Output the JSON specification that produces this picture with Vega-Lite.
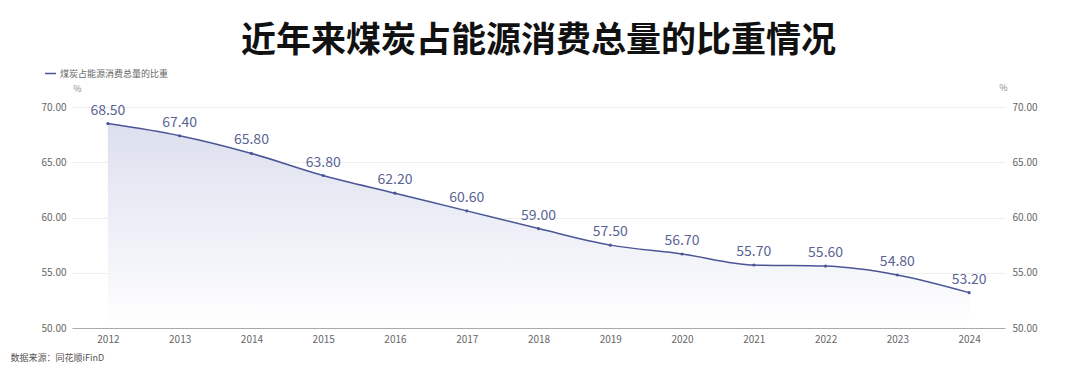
{
  "$schema": "https://vega.github.io/schema/vega-lite/v6.json",
  "width": 933,
  "height": 221,
  "autosize": {"type": "none"},
  "padding": {"left": 72, "top": 107, "right": 75, "bottom": 49},
  "background": "white",
  "config": {
    "font": "Noto Sans CJK SC",
    "view": {"stroke": null}
  },
  "title": {
    "text": "近年来煤炭占能源消费总量的比重情况",
    "fontSize": 35,
    "fontWeight": "bold",
    "color": "#111111",
    "anchor": "middle",
    "frame": "group",
    "offset": 8
  },
  "data": {
    "values": [
      {"year": "2012", "value": 68.5, "series": "煤炭占能源消费总量的比重"},
      {"year": "2013", "value": 67.4, "series": "煤炭占能源消费总量的比重"},
      {"year": "2014", "value": 65.8, "series": "煤炭占能源消费总量的比重"},
      {"year": "2015", "value": 63.8, "series": "煤炭占能源消费总量的比重"},
      {"year": "2016", "value": 62.2, "series": "煤炭占能源消费总量的比重"},
      {"year": "2017", "value": 60.6, "series": "煤炭占能源消费总量的比重"},
      {"year": "2018", "value": 59.0, "series": "煤炭占能源消费总量的比重"},
      {"year": "2019", "value": 57.5, "series": "煤炭占能源消费总量的比重"},
      {"year": "2020", "value": 56.7, "series": "煤炭占能源消费总量的比重"},
      {"year": "2021", "value": 55.7, "series": "煤炭占能源消费总量的比重"},
      {"year": "2022", "value": 55.6, "series": "煤炭占能源消费总量的比重"},
      {"year": "2023", "value": 54.8, "series": "煤炭占能源消费总量的比重"},
      {"year": "2024", "value": 53.2, "series": "煤炭占能源消费总量的比重"}
    ]
  },
  "encoding": {
    "x": {
      "field": "year",
      "type": "ordinal",
      "scale": {"type": "point", "padding": 0.5},
      "axis": {
        "labelAngle": 0,
        "labelFontSize": 10,
        "labelColor": "#666666",
        "labelPadding": 6,
        "ticks": false,
        "domainColor": "#aaaaaa",
        "grid": false,
        "title": "数据来源：同花顺iFinD",
        "titleFontSize": 9,
        "titleFontWeight": "normal",
        "titleColor": "#555555",
        "titleAnchor": "start",
        "titleAlign": "left",
        "titleX": -62,
        "titleY": 29,
        "titleBaseline": "middle"
      }
    },
    "y": {
      "field": "value",
      "type": "quantitative",
      "scale": {"domain": [50, 70], "zero": false, "nice": false},
      "axis": null
    }
  },
  "layer": [
    {
      "mark": {
        "type": "area",
        "interpolate": "monotone",
        "fill": {
          "x1": 0, "y1": 0, "x2": 0, "y2": 1,
          "gradient": "linear",
          "stops": [
            {"offset": 0, "color": "#dcdfee"},
            {"offset": 1, "color": "#ffffff"}
          ]
        },
        "opacity": 1
      },
      "encoding": {
        "y": {
          "field": "value",
          "type": "quantitative",
          "scale": {"domain": [50, 70], "zero": false, "nice": false},
          "axis": {
            "orient": "left",
            "values": [50, 55, 60, 65, 70],
            "format": ".2f",
            "labelFontSize": 10,
            "labelColor": "#666666",
            "labelPadding": 6,
            "ticks": false,
            "domain": false,
            "grid": true,
            "gridColor": "#eeeeee",
            "title": "%",
            "titleAngle": 0,
            "titleFontSize": 9,
            "titleFontWeight": "normal",
            "titleColor": "#888888",
            "titleX": 5,
            "titleY": -14,
            "titleAlign": "center"
          }
        },
        "y2": {"datum": 50}
      }
    },
    {
      "mark": {"type": "line", "interpolate": "monotone", "strokeWidth": 1.5},
      "encoding": {
        "y": {
          "field": "value",
          "type": "quantitative",
          "scale": {"domain": [50, 70], "zero": false, "nice": false},
          "axis": {
            "orient": "right",
            "values": [50, 55, 60, 65, 70],
            "format": ".2f",
            "labelFontSize": 10,
            "labelColor": "#666666",
            "labelPadding": 7,
            "ticks": false,
            "domain": false,
            "grid": false,
            "title": "%",
            "titleAngle": 0,
            "titleFontSize": 9,
            "titleFontWeight": "normal",
            "titleColor": "#888888",
            "titleX": -2,
            "titleY": -15,
            "titleAlign": "center"
          }
        },
        "color": {
          "field": "series",
          "type": "nominal",
          "scale": {"range": ["#4b5596"]},
          "legend": {
            "title": null,
            "orient": "none",
            "legendX": -28,
            "legendY": -40,
            "symbolType": "stroke",
            "symbolSize": 120,
            "symbolStrokeWidth": 1.5,
            "labelFontSize": 9,
            "labelColor": "#666666",
            "labelOffset": 3
          }
        }
      }
    },
    {
      "mark": {"type": "point", "filled": true, "size": 10, "color": "#4b5596", "opacity": 1}
    },
    {
      "mark": {"type": "text", "dy": -13, "fontSize": 14, "color": "#5a6494"},
      "encoding": {
        "text": {"field": "value", "type": "quantitative", "format": ".2f"}
      }
    }
  ],
  "resolve": {"axis": {"y": "independent"}}
}
